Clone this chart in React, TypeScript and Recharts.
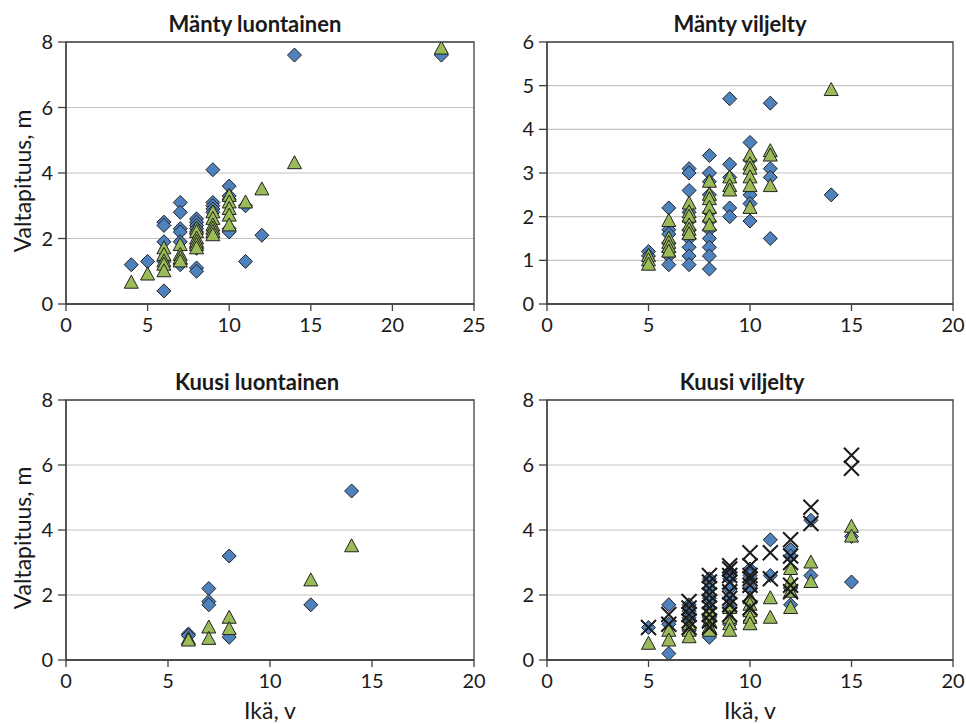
import React from 'react';
import { ScatterChart, Scatter, XAxis, YAxis, CartesianGrid, ReferenceArea } from 'recharts';

type Pt = [number, number];

const FONT = "Lato, 'Open Sans', sans-serif";
const INK = '#1a1a1a';
const FRAME = '#404040';

// Mänty luontainen
const mlTicksX = [0, 5, 10, 15, 20, 25];
const mlTicksY = [0, 2, 4, 6, 8];
const mlDiamonds: Pt[] = [
    [4, 1.2], [5, 1.3], [6, 2.5], [6, 2.4], [6, 1.9], [6, 0.4], [6, 1.3],
    [7, 3.1], [7, 2.8], [7, 2.3], [7, 2.2], [7, 1.9], [7, 1.2],
    [8, 2.6], [8, 2.5], [8, 2.4], [8, 2.3], [8, 2.2], [8, 1.7], [8, 1.1], [8, 1.0],
    [9, 4.1], [9, 3.1], [9, 3.0], [9, 2.9], [9, 2.8],
    [10, 3.6], [10, 3.3], [10, 3.2], [10, 2.3], [10, 2.2],
    [11, 3.0], [11, 1.3], [12, 2.1], [14, 7.6], [23, 7.6],
];
const mlTriangles: Pt[] = [
    [4, 0.65], [5, 0.9], [6, 1.7], [6, 1.5], [6, 1.3], [6, 1.2], [6, 1.0],
    [7, 1.8], [7, 1.5], [7, 1.4], [7, 1.3],
    [8, 2.3], [8, 2.2], [8, 2.0], [8, 1.9], [8, 1.8], [8, 1.7],
    [9, 2.8], [9, 2.6], [9, 2.4], [9, 2.3], [9, 2.2], [9, 2.1],
    [10, 3.3], [10, 3.1], [10, 2.9], [10, 2.7], [10, 2.4],
    [11, 3.1], [12, 3.5], [14, 4.3], [23, 7.8],
];

// Mänty viljelty
const mvTicksX = [0, 5, 10, 15, 20];
const mvTicksY = [0, 1, 2, 3, 4, 5, 6];
const mvDiamonds: Pt[] = [
    [5, 1.2], [5, 1.1],
    [6, 2.2], [6, 1.7], [6, 1.6], [6, 1.4], [6, 1.2], [6, 1.1], [6, 0.9],
    [7, 3.1], [7, 3.0], [7, 2.6], [7, 2.1], [7, 1.9], [7, 1.7], [7, 1.5], [7, 1.3], [7, 1.1], [7, 0.9],
    [8, 3.4], [8, 3.0], [8, 2.8], [8, 2.5], [8, 2.1], [8, 1.9], [8, 1.7], [8, 1.5], [8, 1.3], [8, 1.1], [8, 0.8],
    [9, 4.7], [9, 3.2], [9, 2.9], [9, 2.2], [9, 2.0],
    [10, 3.7], [10, 3.3], [10, 2.5], [10, 2.3], [10, 1.9],
    [11, 4.6], [11, 3.1], [11, 2.9], [11, 1.5], [14, 2.5],
];
const mvTriangles: Pt[] = [
    [5, 1.1], [5, 1.0], [5, 0.9],
    [6, 1.9], [6, 1.5], [6, 1.4], [6, 1.3], [6, 1.2],
    [7, 2.3], [7, 2.1], [7, 2.0], [7, 1.8], [7, 1.7], [7, 1.6],
    [8, 2.8], [8, 2.5], [8, 2.4], [8, 2.2], [8, 2.0], [8, 1.8],
    [9, 2.9], [9, 2.7], [9, 2.6],
    [10, 3.4], [10, 3.2], [10, 3.1], [10, 2.9], [10, 2.7], [10, 2.2],
    [11, 3.5], [11, 3.4], [11, 2.7], [14, 4.9],
];

// Kuusi luontainen
const klTicksX = [0, 5, 10, 15, 20];
const klTicksY = [0, 2, 4, 6, 8];
const klDiamonds: Pt[] = [
    [6, 0.8], [6, 0.75], [7, 2.2], [7, 1.8], [7, 1.7], [8, 3.2], [8, 0.7], [12, 1.7], [14, 5.2],
];
const klTriangles: Pt[] = [
    [6, 0.65], [6, 0.6], [7, 1.0], [7, 0.65], [8, 1.3], [8, 0.95], [12, 2.45], [14, 3.5],
];

// Kuusi viljelty
const kvTicksX = [0, 5, 10, 15, 20];
const kvTicksY = [0, 2, 4, 6, 8];
const kvDiamonds: Pt[] = [
    [5, 1.0], [6, 1.7], [6, 1.1], [6, 0.2],
    [7, 1.7], [7, 1.5], [7, 1.3], [7, 0.9],
    [8, 2.5], [8, 2.2], [8, 1.9], [8, 1.6], [8, 1.3], [8, 0.7],
    [9, 2.7], [9, 2.5], [9, 2.2], [9, 1.9], [9, 1.6], [9, 1.1],
    [10, 2.8], [10, 2.6], [10, 2.2], [10, 1.8], [10, 1.4], [10, 1.2],
    [11, 3.7], [11, 2.6], [12, 3.4], [12, 3.2], [12, 2.2], [12, 1.7],
    [13, 4.3], [13, 2.6], [15, 3.8], [15, 2.4],
];
const kvTriangles: Pt[] = [
    [5, 0.5], [6, 0.9], [6, 0.6], [7, 1.1], [7, 0.9], [7, 0.7],
    [8, 1.5], [8, 1.2], [8, 1.0], [8, 0.9],
    [9, 1.6], [9, 1.3], [9, 1.1], [9, 0.9],
    [10, 1.9], [10, 1.7], [10, 1.5], [10, 1.3], [10, 1.1],
    [11, 1.9], [11, 1.3], [12, 2.8], [12, 2.4], [12, 2.1], [12, 1.6],
    [13, 3.0], [13, 2.4], [15, 4.1], [15, 3.8],
];
const kvCrosses: Pt[] = [
    [5, 1.0], [6, 1.4], [6, 1.1],
    [7, 1.8], [7, 1.6], [7, 1.4], [7, 1.2], [7, 1.0],
    [8, 2.6], [8, 2.4], [8, 2.2], [8, 2.0], [8, 1.8], [8, 1.6], [8, 1.4], [8, 1.2], [8, 1.0],
    [9, 2.9], [9, 2.8], [9, 2.6], [9, 2.4], [9, 2.1], [9, 1.9], [9, 1.7], [9, 1.4],
    [10, 3.3], [10, 2.9], [10, 2.6], [10, 2.5], [10, 2.3], [10, 2.0], [10, 1.6],
    [11, 3.3], [11, 2.5], [12, 3.7], [12, 3.2], [12, 3.0], [12, 2.3], [12, 2.1],
    [13, 4.7], [13, 4.2], [15, 6.3], [15, 5.9],
];

const toPoints = (arr: Pt[]) => arr.map(([x, y]) => ({ x, y }));

const Diamond = (p: any) => (
    <path
        d={`M${p.cx},${p.cy - 7}L${p.cx + 7},${p.cy}L${p.cx},${p.cy + 7}L${p.cx - 7},${p.cy}Z`}
        fill="#4F81BD"
        stroke="#222"
        strokeWidth={1}
    />
);

const Triangle = (p: any) => (
    <path
        d={`M${p.cx},${p.cy - 7.5}L${p.cx + 7},${p.cy + 5.5}L${p.cx - 7},${p.cy + 5.5}Z`}
        fill="#9BBB59"
        stroke="#222"
        strokeWidth={1}
    />
);

const Cross = (p: any) => (
    <path
        d={`M${p.cx - 7.5},${p.cy - 7.5}L${p.cx + 7.5},${p.cy + 7.5}M${p.cx + 7.5},${p.cy - 7.5}L${p.cx - 7.5},${p.cy + 7.5}`}
        stroke="#1a1a1a"
        strokeWidth={2}
        fill="none"
    />
);

interface PanelProps {
    title: string;
    titleX: number;
    titleY: number;
    left: number;   // plot area
    top: number;
    width: number;
    height: number;
    xTicks: number[];
    yTicks: number[];
    diamonds: Pt[];
    triangles: Pt[];
    crosses?: Pt[];
}

const Panel: React.FC<PanelProps> = ({ title, titleX, titleY, left, top, width, height, xTicks, yTicks, diamonds, triangles, crosses }) => {
    const xMax = xTicks[xTicks.length - 1];
    const yMax = yTicks[yTicks.length - 1];
    const tickStyle = { fill: INK, fontSize: 20, fontFamily: FONT };
    return (
        <>
            <div
                style={{
                    position: 'absolute', left: titleX, top: titleY, transform: 'translate(-50%, -50%)',
                    fontFamily: FONT, fontWeight: 700, fontSize: 22, color: INK, whiteSpace: 'nowrap', lineHeight: 1,
                }}
            >
                {title}
            </div>
            <div style={{ position: 'absolute', left: left - 60, top: top - 20 }}>
                <ScatterChart width={width + 75} height={height + 60} margin={{ top: 20, right: 15, bottom: 0, left: 0 }}>
                    <CartesianGrid horizontal vertical={false} stroke="#C4C4C4" strokeWidth={1.2} />
                    <XAxis
                        type="number" dataKey="x" domain={[0, xMax]} ticks={xTicks} interval={0}
                        height={40} tickSize={7} tickMargin={7} allowDataOverflow
                        axisLine={{ stroke: FRAME, strokeWidth: 1.3 }} tickLine={{ stroke: FRAME, strokeWidth: 1.3 }}
                        tick={tickStyle}
                    />
                    <YAxis
                        type="number" dataKey="y" domain={[0, yMax]} ticks={yTicks} interval={0}
                        width={60} tickSize={8} tickMargin={5} allowDataOverflow
                        axisLine={{ stroke: FRAME, strokeWidth: 1.3 }} tickLine={{ stroke: FRAME, strokeWidth: 1.3 }}
                        tick={tickStyle}
                    />
                    <ReferenceArea x1={0} x2={xMax} y1={0} y2={yMax} fill="none" stroke={FRAME} strokeWidth={1.3} />
                    <Scatter data={toPoints(diamonds)} shape={Diamond} isAnimationActive={false} />
                    <Scatter data={toPoints(triangles)} shape={Triangle} isAnimationActive={false} />
                    {crosses && <Scatter data={toPoints(crosses)} shape={Cross} isAnimationActive={false} />}
                </ScatterChart>
            </div>
        </>
    );
};

const AxisText: React.FC<{ x: number; y: number; rotate?: boolean; children: React.ReactNode }> = ({ x, y, rotate, children }) => (
    <div
        style={{
            position: 'absolute', left: x, top: y,
            transform: `translate(-50%, -50%)${rotate ? ' rotate(-90deg)' : ''}`,
            fontFamily: FONT, fontSize: 23, color: INK, whiteSpace: 'nowrap', lineHeight: 1,
        }}
    >
        {children}
    </div>
);

export default function App() {
    return (
        <div style={{ position: 'absolute', left: 0, top: 0, width: 966, height: 724, background: '#fff', overflow: 'hidden' }}>
            <Panel
                title="Mänty luontainen" titleX={255} titleY={24}
                left={66} top={42} width={408} height={262}
                xTicks={mlTicksX} yTicks={mlTicksY} diamonds={mlDiamonds} triangles={mlTriangles}
            />
            <Panel
                title="Mänty viljelty" titleX={740} titleY={24}
                left={547} top={42} width={406} height={262}
                xTicks={mvTicksX} yTicks={mvTicksY} diamonds={mvDiamonds} triangles={mvTriangles}
            />
            <Panel
                title="Kuusi luontainen" titleX={257} titleY={382}
                left={66} top={400} width={408} height={260}
                xTicks={klTicksX} yTicks={klTicksY} diamonds={klDiamonds} triangles={klTriangles}
            />
            <Panel
                title="Kuusi viljelty" titleX={742} titleY={382}
                left={547} top={400} width={406} height={260}
                xTicks={kvTicksX} yTicks={kvTicksY} diamonds={kvDiamonds} triangles={kvTriangles} crosses={kvCrosses}
            />
            <AxisText x={22} y={181} rotate>Valtapituus, m</AxisText>
            <AxisText x={22} y={538} rotate>Valtapituus, m</AxisText>
            <AxisText x={270} y={710}>Ikä, v</AxisText>
            <AxisText x={750} y={710}>Ikä, v</AxisText>
        </div>
    );
}
